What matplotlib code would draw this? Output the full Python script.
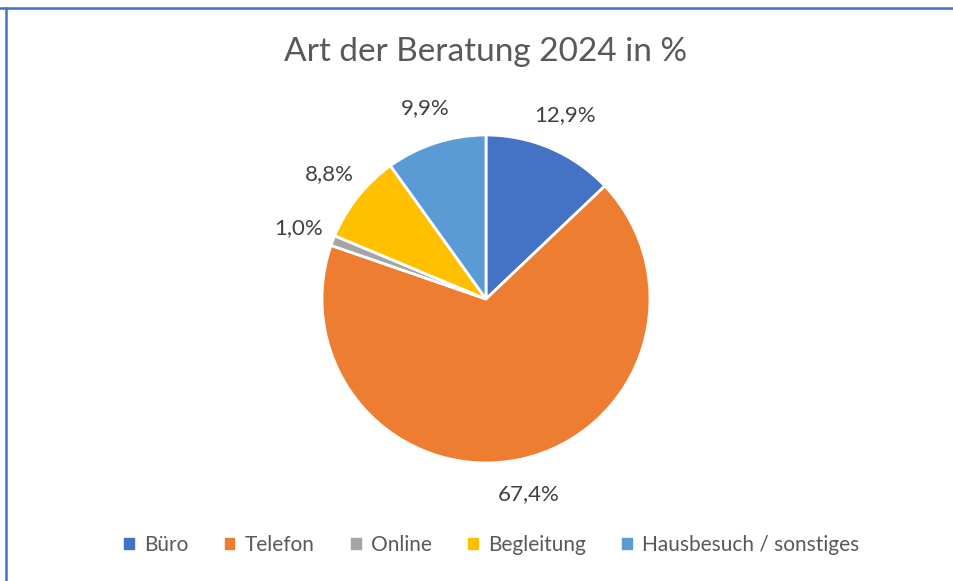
import matplotlib
matplotlib.use("Agg")
import matplotlib.pyplot as plt
from matplotlib.lines import Line2D
from matplotlib.patches import Patch

plt.rcParams['font.family'] = ['Lato', 'DejaVu Sans']

# data
categories = ["Büro", "Telefon", "Online", "Begleitung", "Hausbesuch / sonstiges"]
values = [12.9, 67.4, 1.0, 8.8, 9.9]
colors = ["#4472C4", "#ED7D31", "#A5A5A5", "#FFC000", "#5B9BD5"]
title = "Art der Beratung 2024 in %"

W, H = 954, 581
fig = plt.figure(figsize=(W / 100, H / 100), dpi=100)

# pie axes: centre (486, 299) px, radius 164 px
r = 164
half = 1.5 * r
ax = fig.add_axes([(486 - half) / W, (H - 299 - half) / H, 2 * half / W, 2 * half / H])

wedges, texts, autotexts = ax.pie(
    values, colors=colors, startangle=90, counterclock=False,
    autopct=lambda p: f"{p:.1f}%".replace(".", ","), pctdistance=1.22,
    wedgeprops=dict(edgecolor="white", linewidth=2),
    textprops=dict(color="#404040", fontsize=16),
)
ax.set_xlim(-1.5, 1.5)
ax.set_ylim(-1.5, 1.5)
ax.set_aspect("equal")
ax.axis("off")

fig.text(486 / W, 1 - 52 / H, title, ha="center", va="center",
         fontsize=24, color="#595959")

handles = [Patch(facecolor=c, edgecolor=c) for c in colors]
fig.legend(handles, categories, loc="center", bbox_to_anchor=(492 / W, 1 - 545 / H),
           ncol=5, frameon=False, fontsize=15, handlelength=0.45, handleheight=0.45,
           handletextpad=0.5, columnspacing=1.75, labelcolor="#595959")

# border lines (top and left)
fig.add_artist(Line2D([0, 1], [1 - 7.5 / H, 1 - 7.5 / H], color="#4472C4", lw=1.8,
                      transform=fig.transFigure))
fig.add_artist(Line2D([6.5 / W, 6.5 / W], [0, 1 - 7.5 / H], color="#4472C4", lw=1.8,
                      transform=fig.transFigure))

fig.savefig("out.png", dpi=100, facecolor="white")
